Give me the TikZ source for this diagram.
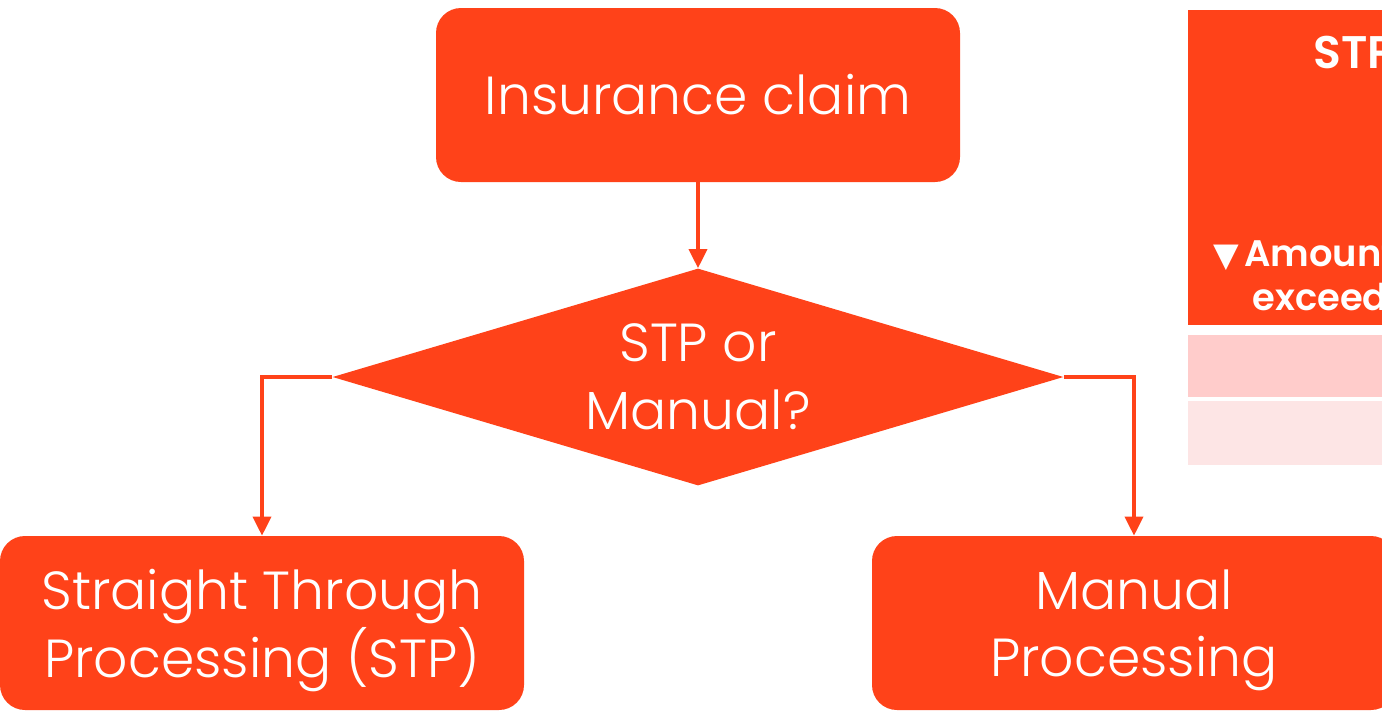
\documentclass[tikz,border=0pt]{standalone}
\usepackage{fontspec}
\setmainfont{Poppins}[UprightFont=* Light, BoldFont=* SemiBold]
\newfontfamily\symfont{DejaVu Sans}
\usepackage{tikz}
\usetikzlibrary{arrows.meta,positioning,shapes.geometric}
\definecolor{stpred}{RGB}{255,66,25}
\definecolor{stppink}{RGB}{255,204,203}
\definecolor{stplight}{RGB}{253,229,229}
\newcommand{\lowtop}[1]{\raisebox{0pt}[\dimexpr\height+0.3cm\relax]{#1}}

\begin{document}
\begin{tikzpicture}[
    auto,
    >={Triangle[width=0.36cm,length=0.38cm]},
    font=\fontsize{30.5}{38.5}\selectfont,
    step box/.style={
		rectangle,
		rounded corners=0.5cm,
		fill=stpred,
		text=white,
		align=center,
		minimum width=10.48cm,
		minimum height=3.48cm
	},
    choice/.style={
		diamond,
		fill=stpred,
		text=white,
		align=center,
		inner sep=0pt,
		shape aspect=3.37,
		minimum width=14.62cm,
		minimum height=4.34cm
	},
    flow/.style={
		draw=stpred,
		line width=2pt,
		->
	},
    cell/.style={
		rectangle,
		inner sep=0pt,
		anchor=north west
	},
    head/.style={
		text=white,
		font=\bfseries\fontsize{21}{26}\selectfont,
		inner sep=0pt
	}
  ]
  \useasboundingbox (0,0) rectangle (27.64,-14.22);
  \clip (0,0) rectangle (27.64,-14.22);

    % We start by placing the blocks
  \node [step box] (claim) at (13.96,-1.9) {Insurance claim};

  \node [choice, below of=claim, node distance=5.64cm] (decide)
 {STP or\\Manual?};

  \node [step box, below of=decide, node distance=4.92cm, xshift=-8.72cm] (stp)
 {\lowtop{Straight Through}\\Processing (STP)};

  \node [step box, below of=decide, node distance=4.92cm, xshift=8.72cm] (manual)
 {\lowtop{Manual}\\Processing};

    % the table at the right, cut by the page edge
  \node [cell, fill=stpred, minimum width=6cm, minimum height=6.3cm] (rulehead) at (23.76,-0.2) {};
  \node [cell, fill=stppink, minimum width=6cm, minimum height=1.24cm] (rowone) at (23.76,-6.7) {};
  \node [cell, fill=stplight, minimum width=6cm, minimum height=1.28cm] (rowtwo) at (23.76,-8.02) {};

  \node [head, font=\bfseries\fontsize{26}{31}\selectfont, anchor=base west] (stptitle) at (26.26,-1.36) {STP};
  \node [head, anchor=base west] (amount) at (24.26,-5.32) {{\symfont\fontsize{19}{23}\selectfont ▼}\kern0.1cm Amount};
  \node [head, anchor=base west] (exceed) at (25.04,-6.2) {exceed};

  \draw [flow] (claim) -- (decide);
  \draw [flow] (decide.west) -| (stp.north);
  \draw [flow] (decide.east) -| (manual.north);

\end{tikzpicture}
\end{document}
